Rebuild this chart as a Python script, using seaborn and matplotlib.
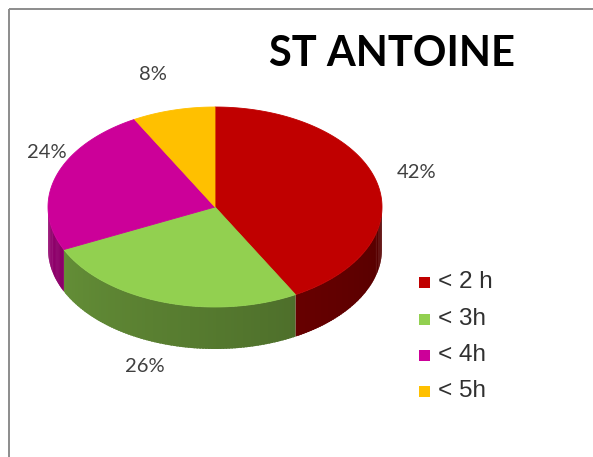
import numpy as np
import matplotlib
matplotlib.use("Agg")
import matplotlib.pyplot as plt
import seaborn as sns
from matplotlib.patches import Rectangle
from matplotlib.colors import to_rgb

categories = ["< 2 h", "< 3h", "< 4h", "< 5h"]
values = [42, 26, 24, 8]
labels = ["42%", "26%", "24%", "8%"]
colors = ["#C00000", "#92D050", "#CC0099", "#FFC000"]
title = "ST ANTOINE"

sns.set_theme(style="white")
plt.rcParams['font.family'] = ['Lato', 'DejaVu Sans']

W, H = 593, 457
fig = plt.figure(figsize=(W / 100, H / 100), dpi=100)
fig.patch.set_facecolor("white")
ax = fig.add_axes([0, 0, 1, 1])
ax.set_xlim(0, W)
ax.set_ylim(H, 0)
ax.axis("off")

# frame
ax.add_patch(Rectangle((8.5, 8.5), 600, 470, fill=False, edgecolor="#8c8c8c", lw=1.4, zorder=0))

cx, cy, rx, ry, depth = 215, 207, 167, 100, 42

def pt(theta_deg, dy=0.0):
    t = np.radians(theta_deg)
    return cx + rx * np.cos(t), cy - ry * np.sin(t) + dy

fracs = np.array(values, dtype=float) / sum(values)
start = 90.0
ranges = []
for f in fracs:
    end = start - f * 360.0
    ranges.append((start, end))
    start = end

# side walls (front, angles in [-180, 0])
for (a0, a1), col in zip(ranges, colors):
    lo, hi = max(a1, -180.0), min(a0, 0.0)
    if lo >= hi:
        continue
    base = np.array(to_rgb(col))
    n = max(int((hi - lo) / 1.0), 2)
    edges = np.linspace(lo, hi, n + 1)
    for e0, e1 in zip(edges[:-1], edges[1:]):
        tm = 0.5 * (e0 + e1)
        u = (tm + 180.0) / 180.0  # 0 at left, 1 at right
        fac = 0.72 - 0.28 * u
        c = np.clip(base * fac, 0, 1)
        th = np.linspace(e0, e1 + 0.6 if e1 < hi else e1, 4)
        xs_t, ys_t = pt(th)
        xs_b, ys_b = pt(th[::-1], depth)
        ax.fill(np.r_[xs_t, xs_b], np.r_[ys_t, ys_b], color=c, lw=0, zorder=2)

# top faces
for (a0, a1), col in zip(ranges, colors):
    th = np.linspace(a0, a1, 200)
    xs, ys = pt(th)
    ax.fill(np.r_[cx, xs], np.r_[cy, ys], color=col, lw=0.6, ec=col, zorder=3)

# percent labels
label_pos = [(417, 172), (145, 367), (47, 153), (153, 75)]
for txt, (x, y) in zip(labels, label_pos):
    ax.text(x, y, txt, fontsize=14.5, color="#404040", ha="center", va="center", zorder=5)

# title
ax.text(392, 54, title, fontsize=30, fontweight="bold", color="black", ha="center", va="center", zorder=5)

# legend
leg_y = [282, 319, 355, 391]
for cat, col, y in zip(categories, colors, leg_y):
    ax.add_patch(Rectangle((419, y - 5.5), 11, 11, color=col, lw=0, zorder=5))
    ax.text(438, y, cat, fontsize=17.5, color="#303030", ha="left", va="center",
            family=["Liberation Sans", "DejaVu Sans"], zorder=5)

fig.savefig("out.png", dpi=100, facecolor="white")
